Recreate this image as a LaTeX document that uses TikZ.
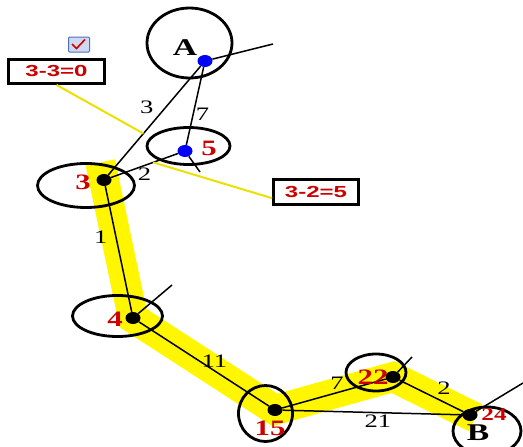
\documentclass[tikz,border=0pt]{standalone}
\usepackage{fontspec}
\newfontfamily\lblfont[FakeStretch=1.4]{Liberation Serif}
\newfontfamily\eqfont[FakeStretch=1.5]{Liberation Sans}
\usetikzlibrary{shapes.geometric,backgrounds}
\definecolor{numred}{RGB}{205,0,0}
\definecolor{bandyellow}{RGB}{255,246,0}
\definecolor{lineyellow}{RGB}{235,225,0}
\definecolor{dotblue}{RGB}{0,0,250}
\begin{document}
\begin{tikzpicture}[x=1pt,y=-1pt,
    vertex/.style={ellipse,fill=black,inner sep=0pt,minimum width=15pt,minimum height=12pt},
    ring/.style={line width=2.8pt},
    edge/.style={line width=1.5pt},
    wt/.style={font=\lblfont\fontsize{19}{19}\selectfont,inner sep=2pt},
    num/.style={text=numred,font=\lblfont\bfseries\fontsize{22}{22}\selectfont,inner sep=0pt},
    letter/.style={font=\lblfont\bfseries\fontsize{24}{24}\selectfont,inner sep=0pt},
    calcbox/.style={draw,line width=2.8pt,text=numred,font=\eqfont\bfseries\fontsize{16}{16}\selectfont},
    callout/.style={lineyellow,line width=2pt}]
    \useasboundingbox (0,0) rectangle (523,447);
    \node[vertex,fill=dotblue] (A) at (205,61) {};
    \node[vertex,fill=dotblue] (n5) at (185,151) {};
    \node[vertex] (n3) at (104,180) {};
    \node[vertex] (n4) at (133,318) {};
    \node[vertex] (n15) at (275,410) {};
    \node[vertex] (n22) at (393,377) {};
    \node[vertex] (n24) at (470,415) {};
    \begin{scope}[on background layer]
    \draw[bandyellow,line width=30pt,shorten <=-18pt,shorten >=-6pt] (n3.center) -- (n4.center) -- (n15.center) -- (n22.center) -- (n24.center);
    \end{scope}
    \coordinate (endA) at (273,44);
    \coordinate (end5) at (200,172);
    \coordinate (end4) at (172,285);
    \coordinate (end22) at (412,357);
    \coordinate (end24) at (523,383);
    \draw[edge] (A) -- node[wt,pos=.47,above left=1pt] {3} coordinate[pos=.62] (cut1) (n3);
    \draw[edge] (A) -- node[wt,pos=.61,right] {7} (n5);
    \draw[edge] (n3) -- node[wt,pos=.5,below] {2} coordinate[pos=.63] (cut2) (n5);
    \draw[edge] (n3) -- node[wt,pos=.41,left=6pt] {1} (n4);
    \draw[edge] (n4) -- node[wt,pos=.58,above] {11} (n15);
    \draw[edge] (n15) -- node[wt,pos=.53,above] {7} (n22);
    \draw[edge] (n22) -- node[wt,pos=.55,above right] {2} (n24);
    \draw[edge] (n15) -- node[wt,pos=.53,below] {21} (n24);
    \draw[edge] (A) -- (endA);
    \draw[edge] (n5) -- (end5);
    \draw[edge] (n4) -- (end4);
    \draw[edge] (n22) -- (end22);
    \draw[edge] (n24) -- (end24);
    \draw[ring] (189.5,43) ellipse [x radius=42.5pt, y radius=35pt];
    \draw[ring] (188.5,146) ellipse [x radius=41.5pt, y radius=18.5pt];
    \draw[ring] (86,185.5) ellipse [x radius=48.5pt, y radius=22pt];
    \draw[ring] (117.5,316) ellipse [x radius=45pt, y radius=20.5pt];
    \draw[ring] (265.5,413.5) ellipse [x radius=27pt, y radius=28pt];
    \draw[ring] (376,372.5) ellipse [x radius=30pt, y radius=18.5pt];
    \draw[ring] (487,431) ellipse [x radius=34pt, y radius=24pt];
    \node[letter] (labA) at (185,48) {A};
    \node[num] (lab5) at (209,148) {5};
    \node[num] (lab3) at (83,182) {3};
    \node[num] (lab4) at (115,319) {4};
    \node[num] (lab15) at (270,428) {15};
    \node[num] (lab22) at (373,377) {22};
    \node[num,font=\lblfont\bfseries\fontsize{18}{18}\selectfont] (lab24) at (494,415) {24};
    \node[letter] (labB) at (478,433) {B};
    \node[calcbox,minimum width=96pt,minimum height=24pt] (eq1) at (56.5,71.5) {3-3=0};
    \node[calcbox,minimum width=85pt,minimum height=25pt] (eq2) at (316,192) {3-2=5};
    \draw[callout] (eq1.south) -- (cut1);
    \draw[callout] (cut2) -- (eq2.188);
    \node[draw={rgb,255:red,80;green,110;blue,190},fill={rgb,255:red,205;green,218;blue,240},line width=1pt,rounded corners=1pt,minimum width=21pt,minimum height=15pt,inner sep=0pt] (check) at (79,44.5) {};
    \draw[numred,line width=1.6pt] (72,44) -- (76.5,48.5) -- (85,39.5);
\end{tikzpicture}
\end{document}
